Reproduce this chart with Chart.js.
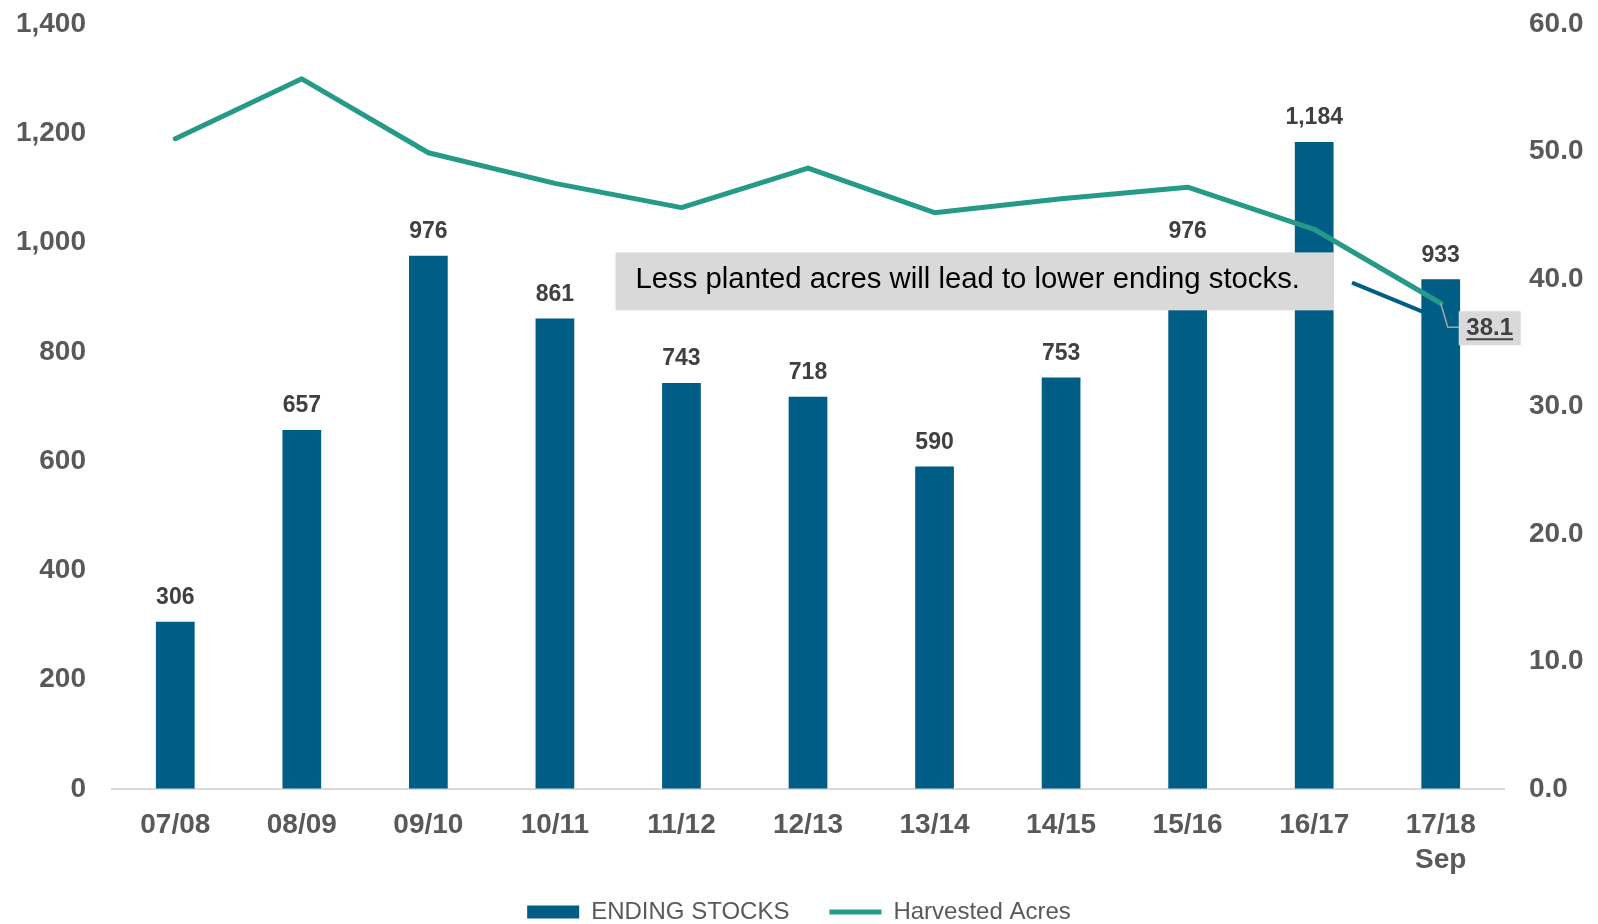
<!DOCTYPE html>
<html>
<head>
<meta charset="utf-8">
<script src="https://cdn.jsdelivr.net/npm/chart.js@4/dist/chart.umd.min.js"></script>
<style>
  html, body { margin: 0; padding: 0; background: #ffffff; }
  #wrap { width: 1598px; height: 924px; position: relative; }
</style>
</head>
<body>
<div id="wrap"><canvas id="c" width="1598" height="924"></canvas></div>
<script>
// ---- data ----
const categories = ['07/08', '08/09', '09/10', '10/11', '11/12', '12/13', '13/14', '14/15', '15/16', '16/17', ['17/18', 'Sep']];
const endingStocks = [306, 657, 976, 861, 743, 718, 590, 753, 976, 1184, 933];
const harvestedAcres = [51.0, 55.7, 49.9, 47.5, 45.6, 48.7, 45.2, 46.3, 47.2, 43.9, 38.1];
const leftTicks = [0, 200, 400, 600, 800, 1000, 1200, 1400];
const rightTicks = [0, 10, 20, 30, 40, 50, 60];
const seriesNames = ['ENDING STOCKS', 'Harvested Acres'];
const noteText = 'Less planted acres will lead to lower ending stocks.';

const FONT = 'Arial, "Liberation Sans", sans-serif';
const BAR_COLOR = '#005e86';
const LINE_COLOR = '#269a88';
const TICK_COLOR = '#595959';
const LEGEND_PAD = 40;
const LEGEND_FONT = 24;

const annotationPlugin = {
  id: 'annot',
  afterLayout(chart) {
    const lg = chart.legend;
    if (lg) {
      const top = chart.height - 12 - LEGEND_PAD - LEGEND_FONT / 2;
      lg.top = top;
      lg.bottom = chart.height;
      lg.height = chart.height - top;
    }
  },
  afterDatasetsDraw(chart) {
    const ctx = chart.ctx;
    const x = chart.scales.x, y = chart.scales.y;

    // bar value labels
    const barMeta = chart.getDatasetMeta(0);
    ctx.save();
    ctx.font = 'bold 23px ' + FONT;
    ctx.fillStyle = '#404040';
    ctx.textAlign = 'center';
    ctx.textBaseline = 'middle';
    barMeta.data.forEach((el, i) => {
      ctx.fillText(endingStocks[i].toLocaleString('en-US'), el.x, el.y - 24);
    });
    ctx.restore();

    // note box
    const bx0 = x.getPixelForValue(3.479), bx1 = x.getPixelForValue(9.157);
    const by0 = y.getPixelForValue(982), by1 = y.getPixelForValue(876);
    ctx.save();
    ctx.fillStyle = '#d9d9d9';
    ctx.fillRect(bx0, by0, bx1 - bx0, by1 - by0);
    ctx.fillStyle = '#000000';
    ctx.font = '29.3px ' + FONT;
    ctx.textAlign = 'left';
    ctx.textBaseline = 'middle';
    ctx.fillText(noteText, bx0 + 20, (by0 + by1) / 2 - 1);
    ctx.restore();

    // arrow line
    ctx.save();
    ctx.strokeStyle = BAR_COLOR;
    ctx.lineWidth = 4;
    ctx.beginPath();
    ctx.moveTo(x.getPixelForValue(9.299), y.getPixelForValue(926.6));
    ctx.lineTo(x.getPixelForValue(9.971), y.getPixelForValue(862.7));
    ctx.stroke();
    ctx.restore();

    // last-point label
    const lineMeta = chart.getDatasetMeta(1);
    const last = lineMeta.data[lineMeta.data.length - 1];
    const px = last.x, py = last.y;
    ctx.save();
    ctx.strokeStyle = '#a6a6a6';
    ctx.lineWidth = 1.5;
    ctx.beginPath();
    ctx.moveTo(px, py);
    ctx.lineTo(px + 7, py + 24);
    ctx.lineTo(px + 18, py + 24);
    ctx.stroke();
    ctx.fillStyle = '#d9d9d9';
    ctx.fillRect(px + 18, py + 8, 62, 34);
    const lbl = harvestedAcres[harvestedAcres.length - 1].toFixed(1);
    ctx.font = 'bold 24px ' + FONT;
    ctx.fillStyle = '#404040';
    ctx.textAlign = 'center';
    ctx.textBaseline = 'middle';
    ctx.fillText(lbl, px + 49, py + 25);
    const w = ctx.measureText(lbl).width;
    ctx.fillRect(px + 49 - w / 2, py + 35, w, 2);
    ctx.restore();
  }
};

const hiddenGrid = (len) => ({
  display: true,
  drawOnChartArea: false,
  drawTicks: true,
  tickLength: len,
  color: 'rgba(0,0,0,0)'
});

new Chart(document.getElementById('c'), {
  type: 'bar',
  data: {
    labels: categories,
    datasets: [
      {
        type: 'bar',
        label: seriesNames[0],
        data: endingStocks,
        backgroundColor: BAR_COLOR,
        borderWidth: 0,
        yAxisID: 'y',
        order: 1,
        barPercentage: 0.306,
        categoryPercentage: 1.0,
        pointStyle: 'rect'
      },
      {
        type: 'line',
        label: seriesNames[1],
        data: harvestedAcres,
        borderColor: LINE_COLOR,
        backgroundColor: LINE_COLOR,
        borderWidth: 5,
        borderCapStyle: 'round',
        borderJoinStyle: 'round',
        tension: 0,
        pointRadius: 0,
        pointHoverRadius: 0,
        pointStyle: 'line',
        yAxisID: 'y1',
        order: 0
      }
    ]
  },
  options: {
    responsive: false,
    animation: false,
    devicePixelRatio: 1,
    layout: { padding: { top: 24, bottom: 0, left: 0, right: 0 } },
    plugins: {
      tooltip: { enabled: false },
      legend: {
        position: 'bottom',
        align: 'center',
        maxHeight: 36,
        labels: {
          usePointStyle: true,
          pointStyleWidth: 52,
          boxHeight: 13,
          padding: LEGEND_PAD,
          color: TICK_COLOR,
          font: { family: FONT, size: LEGEND_FONT },
          sort: (a, b) => a.datasetIndex - b.datasetIndex
        }
      }
    },
    scales: {
      x: {
        grid: { display: false, drawTicks: false },
        border: { display: true, color: '#d9d9d9', width: 2 },
        ticks: {
          color: TICK_COLOR,
          padding: 18,
          maxRotation: 0,
          autoSkip: false,
          font: { family: FONT, size: 28, weight: 'bold', lineHeight: 1.28 }
        },
        afterFit: (s) => { s.height = 99; }
      },
      y: {
        position: 'left',
        min: 0, max: 1400,
        grid: hiddenGrid(26),
        border: { display: false },
        afterBuildTicks: (s) => { s.ticks = leftTicks.map(v => ({ value: v })); },
        ticks: {
          color: TICK_COLOR,
          padding: 0,
          font: { family: FONT, size: 28, weight: 'bold' },
          callback: (v) => Number(v).toLocaleString('en-US')
        },
        afterFit: (s) => { s.width = 112; }
      },
      y1: {
        position: 'right',
        min: 0, max: 60,
        grid: hiddenGrid(25),
        border: { display: false },
        afterBuildTicks: (s) => { s.ticks = rightTicks.map(v => ({ value: v })); },
        ticks: {
          color: TICK_COLOR,
          padding: 0,
          font: { family: FONT, size: 28, weight: 'bold' },
          callback: (v) => Number(v).toFixed(1)
        },
        afterFit: (s) => { s.width = 94; }
      }
    }
  },
  plugins: [annotationPlugin]
});
</script>
</body>
</html>
